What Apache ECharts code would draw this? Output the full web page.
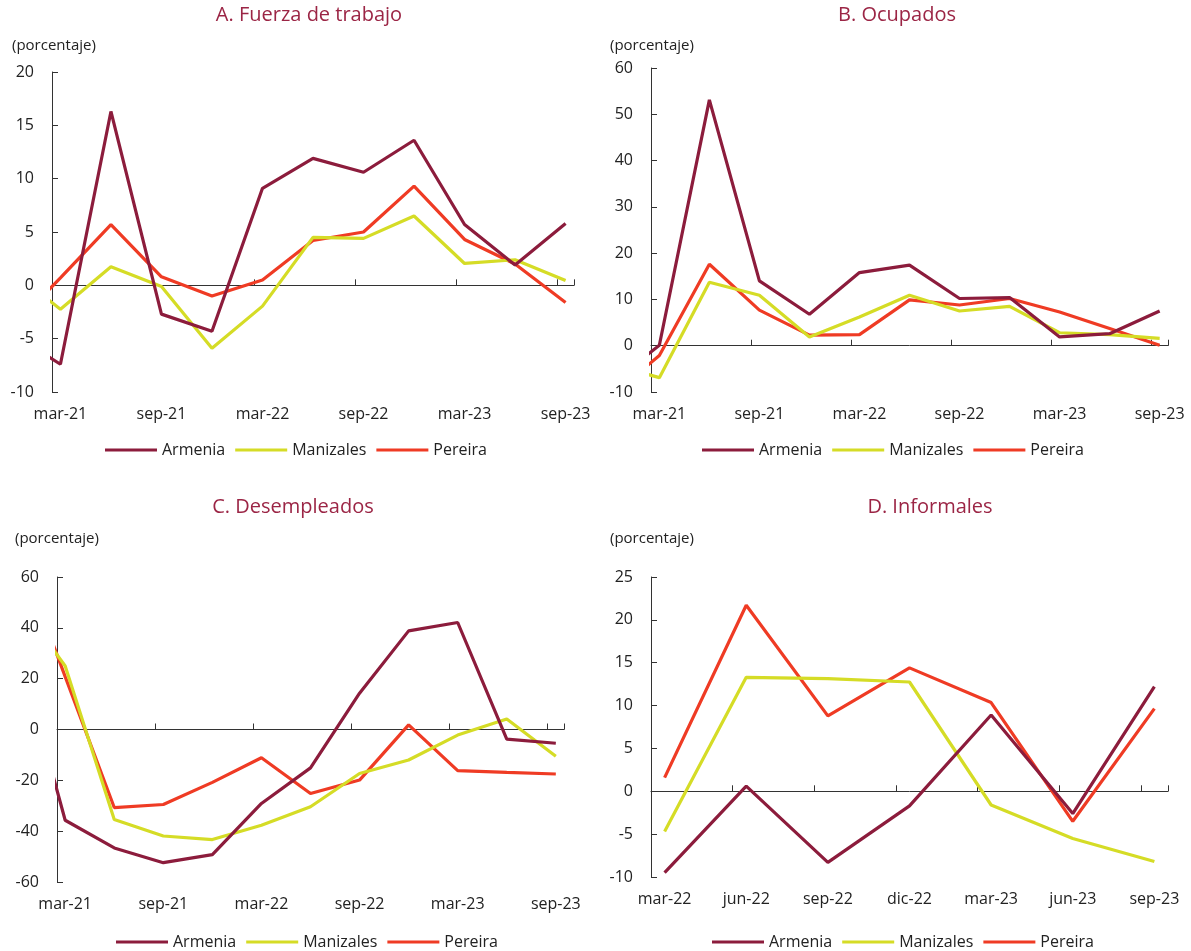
<!DOCTYPE html>
<html>
<head>
<meta charset="utf-8">
<script src="https://cdn.jsdelivr.net/npm/echarts@6/dist/echarts.min.js"></script>
<style>
  html, body { margin: 0; padding: 0; background: #fff; }
  #chart { width: 1191px; height: 951px; }
</style>
</head>
<body>
<div id="chart"></div>
<script>
// trimestres (el primero, dic-20, queda recortado por el eje)
const quarterLabelsAC = ['dic-20','mar-21','jun-21','sep-21','dic-21','mar-22','jun-22','sep-22','dic-22','mar-23','jun-23','sep-23'];
const tickLabelsAC = ['mar-21','sep-21','mar-22','sep-22','mar-23','sep-23'];
const quarterLabelsD = ['mar-22','jun-22','sep-22','dic-22','mar-23','jun-23','sep-23'];

// A. Fuerza de trabajo
const fuerzaArmenia   = [-4.4, -7.4, 16.3, -2.7, -4.3, 9.1, 11.9, 10.6, 13.6, 5.7, 1.9, 5.8];
const fuerzaManizales = [1.5, -2.25, 1.75, -0.1, -5.9, -1.95, 4.5, 4.4, 6.5, 2.05, 2.4, 0.45];
const fuerzaPereira   = [-4.2, 0.7, 5.7, 0.8, -1.0, 0.5, 4.2, 5.0, 9.3, 4.3, 2.0, -1.6];
// B. Ocupados
const ocupArmenia   = [-8.5, 0.1, 53.1, 14.0, 6.8, 15.8, 17.4, 10.2, 10.4, 1.9, 2.6, 7.5];
const ocupManizales = [-3.9, -6.9, 13.7, 10.9, 1.9, 6.2, 10.9, 7.5, 8.5, 2.8, 2.4, 1.6];
const ocupPereira   = [-11.3, -2.1, 17.6, 7.7, 2.3, 2.4, 9.9, 8.8, 10.2, 7.3, 3.7, 0.1];
// C. Desempleados
const desArmenia   = [35.1, -35.7, -46.6, -52.4, -49.2, -29.1, -15.1, 14.3, 38.8, 42.1, -3.8, -5.4];
const desManizales = [51.4, 25.0, -35.4, -41.9, -43.3, -37.7, -30.4, -17.3, -12.0, -2.2, 4.1, -10.5];
const desPereira   = [72.4, 20.8, -30.7, -29.5, -20.8, -11.1, -25.2, -19.9, 1.8, -16.2, -16.9, -17.5];
// D. Informales
const infArmenia   = [-9.5, 0.6, -8.3, -1.7, 8.9, -2.6, 12.2];
const infManizales = [-4.7, 13.3, 13.15, 12.75, -1.6, -5.5, -8.2];
const infPereira   = [1.6, 21.7, 8.8, 14.4, 10.35, -3.5, 9.65];

const cities = ['Armenia', 'Manizales', 'Pereira'];
const colors = ['#8c1c3c', '#d5dc26', '#ef3b24'];
const FONT = '"Open Sans", sans-serif';

// posicion en meses desde el inicio del eje (centro de cada mes)
function monthPos(i, firstOffset) { return 3 * i + firstOffset; }

function monthCats(n, labels, step) {
  const out = [];
  for (let i = 0; i < n; i++) out.push(i % step === 0 ? labels[i / step] : '');
  return out;
}

const panels = [
  { grid: {left: 52, top: 72, width: 522, height: 320}, months: 31, step: 6, first: -2.5,
    ticks: tickLabelsAC, y: [-10, 20, 5], data: [fuerzaArmenia, fuerzaManizales, fuerzaPereira] },
  { grid: {left: 651, top: 68, width: 517, height: 324}, months: 31, step: 6, first: -2.5,
    ticks: tickLabelsAC, y: [-10, 60, 10], data: [ocupArmenia, ocupManizales, ocupPereira] },
  { grid: {left: 57, top: 577, width: 507, height: 305}, months: 31, step: 6, first: -2.5,
    ticks: tickLabelsAC, y: [-60, 60, 20], data: [desArmenia, desManizales, desPereira] },
  { grid: {left: 651, top: 577, width: 517, height: 300}, months: 19, step: 3, first: 0.5,
    ticks: quarterLabelsD, y: [-10, 25, 5], data: [infArmenia, infManizales, infPereira] }
];

const grid = [], xAxis = [], yAxis = [], series = [];
panels.forEach((p, g) => {
  grid.push(p.grid);
  // eje de etiquetas (abajo)
  xAxis.push({
    type: 'category', gridIndex: g, position: 'bottom', boundaryGap: true,
    data: monthCats(p.months, p.ticks, p.step),
    axisLine: {show: false, onZero: false}, axisTick: {show: false},
    axisLabel: {interval: 0, color: '#222', fontSize: 16, fontFamily: FONT, margin: 14}
  });
  // eje de valores con la linea en cero
  xAxis.push({
    type: 'value', gridIndex: g, position: 'bottom', min: 0, max: p.months, interval: p.step,
    axisLine: {show: true, onZero: true, lineStyle: {color: '#333', width: 1}},
    axisTick: {show: true, inside: true, length: 6, lineStyle: {color: '#333'}},
    axisLabel: {show: false}, splitLine: {show: false}
  });
  yAxis.push({
    type: 'value', gridIndex: g, min: p.y[0], max: p.y[1], interval: p.y[2],
    axisLine: {show: true, lineStyle: {color: '#333', width: 1}},
    axisTick: {show: true, inside: true, length: 6, lineStyle: {color: '#333'}},
    axisLabel: {color: '#222', fontSize: 16, fontFamily: FONT, margin: 18},
    splitLine: {show: false}
  });
  p.data.forEach((vals, k) => {
    series.push({
      name: cities[k], type: 'line', xAxisIndex: 2 * g + 1, yAxisIndex: g,
      data: vals.map((v, i) => [monthPos(i, p.first), v]),
      showSymbol: false, symbol: 'none', clip: true, z: 3 - k + 2,
      color: colors[k],
      lineStyle: {color: colors[k], width: 3.2}
    });
  });
});

const titleStyle = {fill: '#9b2545', font: '20px ' + FONT, textAlign: 'center'};
const unitStyle = {fill: '#222', font: '15px ' + FONT};
const graphic = [
  {type: 'text', x: 309, y: 5, style: Object.assign({text: 'A. Fuerza de trabajo'}, titleStyle)},
  {type: 'text', x: 897, y: 5, style: Object.assign({text: 'B. Ocupados'}, titleStyle)},
  {type: 'text', x: 293, y: 497, style: Object.assign({text: 'C. Desempleados'}, titleStyle)},
  {type: 'text', x: 930, y: 497, style: Object.assign({text: 'D. Informales'}, titleStyle)},
  {type: 'text', x: 12, y: 38, style: Object.assign({text: '(porcentaje)'}, unitStyle)},
  {type: 'text', x: 610, y: 38, style: Object.assign({text: '(porcentaje)'}, unitStyle)},
  {type: 'text', x: 15, y: 531, style: Object.assign({text: '(porcentaje)'}, unitStyle)},
  {type: 'text', x: 610, y: 531, style: Object.assign({text: '(porcentaje)'}, unitStyle)}
];

const legendBase = {
  data: cities, icon: 'rect', itemWidth: 52, itemHeight: 3, itemGap: 10,
  textStyle: {color: '#222', fontSize: 16, fontFamily: FONT}
};
const legend = [
  Object.assign({left: 100, top: 437}, legendBase),
  Object.assign({left: 697, top: 437}, legendBase),
  Object.assign({left: 111, top: 929}, legendBase),
  Object.assign({left: 707, top: 929}, legendBase)
];

const myChart = echarts.init(document.getElementById('chart'));
myChart.setOption({
  animation: false,
  textStyle: {fontFamily: FONT},
  grid: grid, xAxis: xAxis, yAxis: yAxis, series: series,
  legend: legend, graphic: graphic
}, true);
</script>
</body>
</html>
